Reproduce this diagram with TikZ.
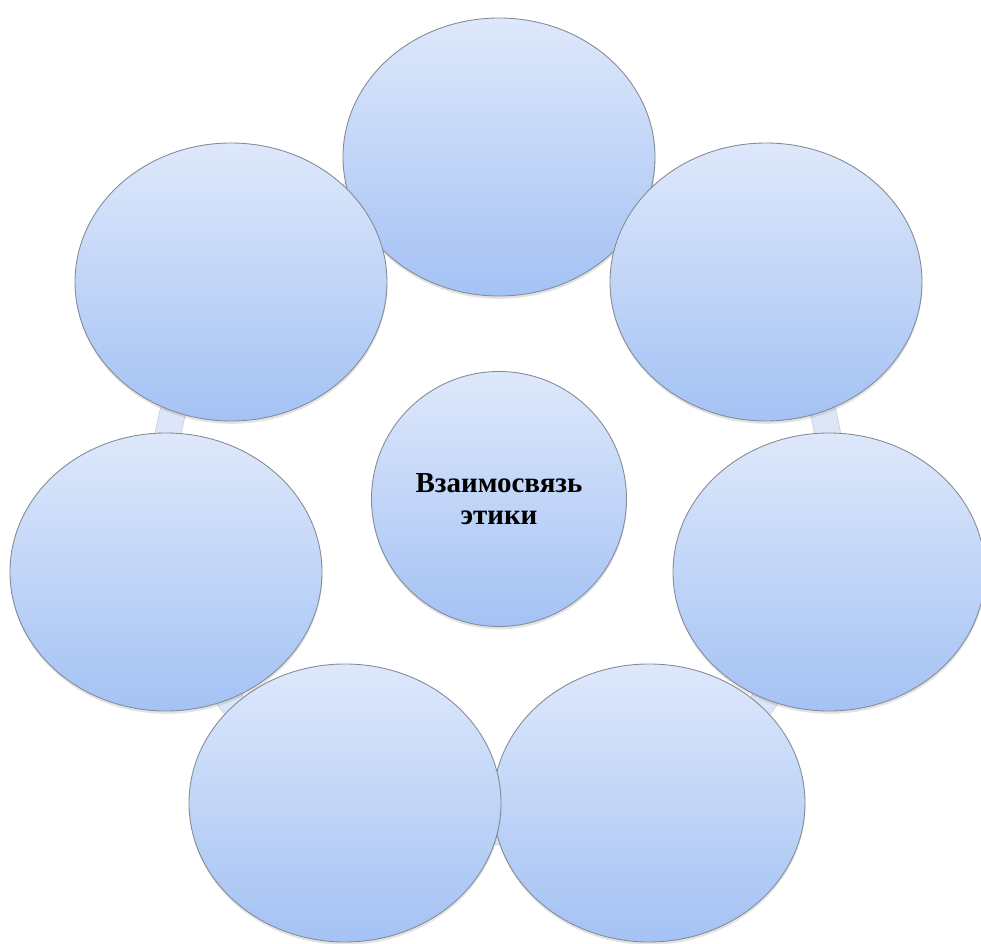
\documentclass[tikz,border=0pt]{standalone}
\usepackage{fontspec}
\setmainfont{Liberation Serif}
\usetikzlibrary{shapes.geometric,backgrounds,shadows}
\definecolor{bubtop}{HTML}{DEE8FB}
\definecolor{bubbot}{HTML}{A4C2F4}
\definecolor{bubline}{HTML}{858B96}
\definecolor{ringfill}{HTML}{DCE6F8}

\begin{document}
\begin{tikzpicture}[
  bub/.style={ellipse,draw=bubline,line width=0.5pt,top color=bubtop,bottom color=bubbot,minimum width=6.24cm,minimum height=5.56cm,inner sep=0pt,drop shadow={shadow xshift=0.2pt,shadow yshift=-1.6pt,opacity=0.22}},
  core/.style={bub,circle,minimum width=5.1cm,minimum height=5.1cm,align=center,font=\fontsize{16.5}{18.5}\selectfont\bfseries},
  ring/.style={draw=black!20,double=ringfill,double distance=0.5cm,line width=0.4pt}]
\useasboundingbox (0,0) rectangle (19.62,-18.88);
% outer bubbles, clockwise from the top
\node[bub] (top) at (9.98,-3.14) {};
\node[bub] (tr)  at (15.32,-5.64) {};
\node[bub] (rt)  at (16.58,-11.44) {};
\node[bub] (br)  at (12.98,-16.06) {};
\node[bub] (bl)  at (6.90,-16.06) {};
\node[bub] (lt)  at (3.32,-11.44) {};
\node[bub] (tl)  at (4.62,-5.64) {};
% centre
\node[core] (ctr) at (9.98,-9.98) {Взаимосвязь\\этики};
% ring behind the bubbles
\begin{scope}[on background layer]
  \foreach \a/\b in {top/tr,tr/rt,rt/br,br/bl,bl/lt,lt/tl,tl/top}
    \draw[ring] (\a.center) to[bend left=19] (\b.center);
\end{scope}
\end{tikzpicture}
\end{document}
